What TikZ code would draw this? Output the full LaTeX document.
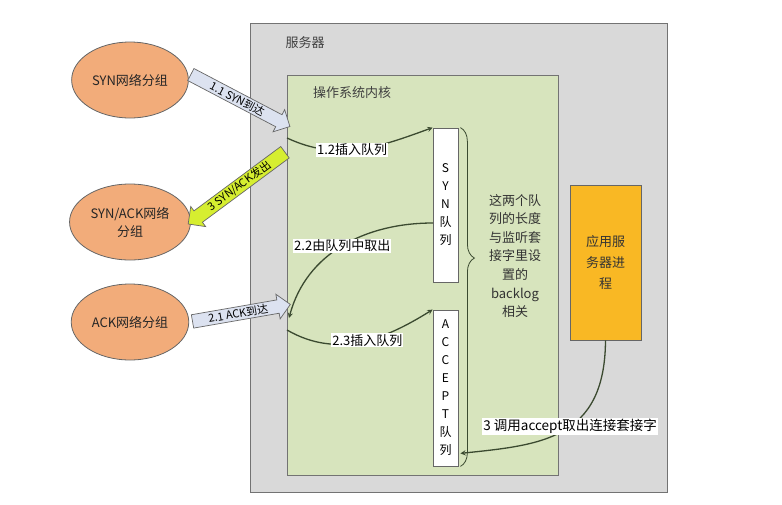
\documentclass[tikz,border=0pt]{standalone}
\usepackage{fontspec}
\setmainfont{Noto Sans CJK SC}
\usetikzlibrary{arrows,shapes,calc,decorations.pathreplacing}
\definecolor{srvgray}{HTML}{D9D9D9}
\definecolor{kerngreen}{HTML}{D7E4BD}
\definecolor{pktorange}{HTML}{F2AC7A}
\definecolor{appgold}{HTML}{F9B824}
\definecolor{curvegreen}{HTML}{3B4A30}
\definecolor{inblue}{HTML}{DCE2F0}
\definecolor{outyellow}{HTML}{D6EE30}
\tikzstyle{frame}=[rectangle,draw=black!55,line width=0.8pt,inner sep=0pt]
\tikzstyle{pkt}=[ellipse,draw=black!60,fill=pktorange,line width=0.8pt,minimum width=114pt,minimum height=76pt,align=center,font=\fontsize{13}{18}\selectfont,text=black!85]
\tikzstyle{queue}=[rectangle,draw=black!60,fill=white,line width=0.8pt,minimum width=25pt,inner sep=0pt,align=center,font=\fontsize{12}{18}\selectfont]
\tikzstyle{fatarrow}=[single arrow,draw=black!60,line width=0.7pt,single arrow head extend=5pt,single arrow head indent=0pt,inner sep=0.6pt,font=\fontsize{11}{11}\selectfont]
\tikzstyle{flowcurve}=[->,>=stealth,line width=1.3pt,draw=curvegreen]
\tikzstyle{lbl}=[fill=white,inner sep=1pt,font=\fontsize{13}{15}\selectfont]
\tikzstyle{title}=[font=\fontsize{13}{15}\selectfont,text=black!75]

\begin{document}
\begin{tikzpicture}[x=1pt,y=-1pt]
\useasboundingbox (0,0) rectangle (782,504);
\node[frame,fill=srvgray,minimum width=417pt,minimum height=469pt] (server) at (458.5,257.5) {};
\node[title] (srvname) at (305,43) {服务器};
\node[frame,fill=kerngreen,minimum width=271pt,minimum height=400pt] (kernel) at (422.5,275) {};
\node[title] (kername) at (352,93) {操作系统内核};
\node[queue,minimum height=154pt] (synq) at (445.5,205) {S\\Y\\N\\队\\列};
\node[queue,minimum height=156pt] (acceptq) at (445.5,388) {A\\C\\C\\E\\P\\T\\队\\列};
\node[frame,draw=black!60,fill=appgold,minimum width=71pt,minimum height=155pt,align=center,font=\fontsize{13}{21}\selectfont,text=black!80] (app) at (605.5,262.5) {应用服\\务器进\\程};
\node[pkt] (syn) at (130,80) {SYN网络分组};
\node[pkt] (synack) at (130,222) {SYN/ACK网络\\分组};
\node[pkt] (ack) at (130,322) {ACK网络分组};

% queue length note
\draw[curvegreen,line width=0.8pt,decorate,decoration={brace,amplitude=14pt,aspect=0.385}]
  ($(synq.north east)+(2,0)$) -- ($(acceptq.south east)+(2,0)$);
\node[align=center,font=\fontsize{13}{18.6}\selectfont,text=black!80] (note) at (515,256)
  {这两个队\\列的长度\\与监听套\\接字里设\\置的\\backlog\\相关};

% network packets
\coordinate (k11) at (287,125);
\coordinate (k3) at (288,150);
\coordinate (k21) at (287,305);
\path let \p1=(syn.7),\p2=(k11),\n1={atan2(\y2-\y1,\x2-\x1)},\n2={veclen(\x2-\x1,\y2-\y1)} in
  node[fatarrow,fill=inblue,rotate=\n1,minimum height=\n2,minimum width=25pt] (a11) at ($(\p1)!0.5!(\p2)$) {1.1 SYN到达};
\path let \p1=(synack.east),\p2=(k3),\n1={atan2(\y2-\y1,\x2-\x1)},\n2={veclen(\x2-\x1,\y2-\y1)} in
  node[fatarrow,fill=outyellow,shape border rotate=180,rotate=\n1,minimum height=\n2,minimum width=25pt] (a3) at ($(\p1)!0.5!(\p2)$) {3 SYN/ACK发出};
\path let \p1=(ack.east),\p2=(k21),\n1={atan2(\y2-\y1,\x2-\x1)},\n2={veclen(\x2-\x1,\y2-\y1)} in
  node[fatarrow,fill=inblue,rotate=\n1,minimum height=\n2,minimum width=25pt] (a21) at ($(\p1)!0.5!(\p2)$) {2.1 ACK到达};

% kernel steps
\coordinate (k12) at (287,138);
\coordinate (k22) at (289,318);
\coordinate (k23) at (287,330);
\coordinate (s22) at (433,223);
\coordinate (q3) at ($(acceptq.south east)+(2,-13)$);
\draw[flowcurve] (k12) to[out=-25,in=200] node[lbl,pos=0.45] {1.2插入队列} (synq.north west);
\draw[flowcurve] (s22) to[out=180,in=75] node[lbl,pos=0.5] {2.2由队列中取出} (k22);
\draw[flowcurve] (k23) to[out=-30,in=212] node[lbl,pos=0.55] {2.3插入队列} (acceptq.north west);
\draw[flowcurve] (app.south) .. controls (605,440) and (540,445) .. node[lbl,pos=0.45,font=\fontsize{13.5}{15}\selectfont] {3 调用accept取出连接套接字} (q3);
\end{tikzpicture}
\end{document}
